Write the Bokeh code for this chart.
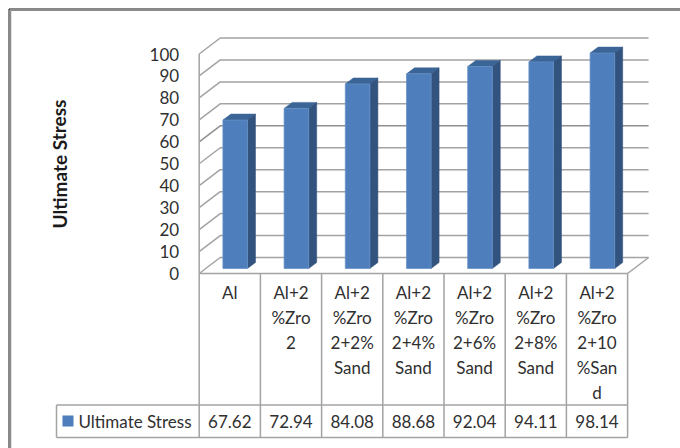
from bokeh.embed import file_html
from bokeh.resources import INLINE
from bokeh.models import ColumnDataSource, FixedTicker, Range1d
from bokeh.plotting import figure
from bokeh.core.properties import value

# Chart data
series_name = "Ultimate Stress"
category_lines = [
    ["Al"],
    ["Al+2", "%Zro", "2"],
    ["Al+2", "%Zro", "2+2%", "Sand"],
    ["Al+2", "%Zro", "2+4%", "Sand"],
    ["Al+2", "%Zro", "2+6%", "Sand"],
    ["Al+2", "%Zro", "2+8%", "Sand"],
    ["Al+2", "%Zro", "2+10", "%San", "d"],
]
stress = [67.62, 72.94, 84.08, 88.68, 92.04, 94.11, 98.14]
y_ticks = [0, 10, 20, 30, 40, 50, 60, 70, 80, 90, 100]

# Page layout, in pixels
W, H = 680, 448
X0, CELL = 198.7, 61.2      # left edge of the data table, width of one category
Y0, UNIT = 273.0, 2.195     # pixel row of value 0 on the front plane, pixels per unit
FONT = value("Lato")
TEXT = "#303030"
RULE = "#a3a3a3"
n = len(stress)


def dx(px):
    return px / CELL


def dy(px):
    return px / UNIT


def xp(px):
    return (px - X0) / CELL


def yp(px):
    return (Y0 - px) / UNIT


p = figure(
    width=W, height=H, output_backend="svg", toolbar_location=None,
    x_range=Range1d(xp(0), xp(W)), y_range=Range1d(yp(H), yp(0)),
    min_border=0, x_axis_location=None, y_axis_location="left",
)
p.xgrid.visible = False
p.ygrid.visible = False
p.outline_line_color = None
p.background_fill_color = "white"

# Value axis sits on the front edge of the left wall
ax = p.yaxis[0]
ax.fixed_location = 0
ax.ticker = FixedTicker(ticks=y_ticks)
ax.axis_line_color = None
ax.major_tick_line_color = None
ax.minor_tick_line_color = None
ax.major_label_standoff = 14
ax.major_label_text_font = "Lato"
ax.major_label_text_font_size = "17px"
ax.major_label_text_color = TEXT

# Chart frame
p.line([xp(8.5), xp(8.5)], [yp(H), yp(8.5)], line_color="#111111", line_width=1)
p.line([xp(8.5), xp(W)], [yp(8.5), yp(8.5)], line_color="#111111", line_width=1)
p.line([xp(10), xp(10)], [yp(H), yp(10)], line_color="#8c8c8c", line_width=1.5)
p.line([xp(10), xp(W)], [yp(9.8), yp(9.8)], line_color="#8c8c8c", line_width=1.5)

# Wall gridlines: diagonal on the side wall, then across the back wall
wall_dx, wall_dy = dx(21), dy(16)
p.multi_line(
    [[0, wall_dx, n + wall_dx] for _ in y_ticks],
    [[t, t + wall_dy, t + wall_dy] for t in y_ticks],
    line_color=[RULE if t != 60 else "#8f8f8f" for t in y_ticks], line_width=1.5,
)
p.line([0, 0], [0, 100], line_color=RULE, line_width=1.5)
p.line([n, n + wall_dx], [0, wall_dy], line_color=RULE, line_width=1.5)

# 3-D columns: top, side, front
bar_w = dx(24.6)
off_x, off_y = dx(5.4), dy(5.0)
dep_x, dep_y = dx(8), dy(6)
lefts = [i + 0.5 + off_x - bar_w / 2 for i in range(n)]
rights = [l + bar_w for l in lefts]
p.patches(
    [[l, r, r + dep_x, l + dep_x] for l, r in zip(lefts, rights)],
    [[v + off_y, v + off_y, v + off_y + dep_y, v + off_y + dep_y] for v in stress],
    fill_color="#3b6596", line_color="#3b6596", line_width=0.5,
)
p.patches(
    [[r, r + dep_x, r + dep_x, r] for r in rights],
    [[off_y, off_y + dep_y, v + off_y + dep_y, v + off_y] for v in stress],
    fill_color="#32537e", line_color="#32537e", line_width=0.5,
)
p.vbar(
    x=[i + 0.5 + off_x for i in range(n)], width=bar_w,
    bottom=off_y, top=[v + off_y for v in stress],
    fill_color="#4e7fbc", line_color="#6690c6", line_width=0.75,
)

# Data table under the plot
table_mid, table_bot = yp(404.5), yp(437)
legend_left = xp(56)
p.multi_line(
    [[i, i] for i in range(n + 1)],
    [[0, table_bot] for _ in range(n + 1)],
    line_color=RULE, line_width=1.5,
)
p.multi_line(
    [[0, n], [legend_left, n], [legend_left, n], [legend_left, legend_left]],
    [[0, 0], [table_mid, table_mid], [table_bot, table_bot], [table_mid, table_bot]],
    line_color=RULE, line_width=1.5,
)

# Wrapped category names
cat_x, cat_y, cat_t = [], [], []
for i, lines in enumerate(category_lines):
    for k, line in enumerate(lines):
        cat_x.append(i + 0.5)
        cat_y.append(yp(292 + 25 * k))
        cat_t.append(line)
p.text(
    x=cat_x, y=cat_y, text=cat_t, text_font=FONT, text_font_size="17px",
    text_color=TEXT, text_align="center", text_baseline="middle",
)

# Value row
row_y = yp(420.5)
values = ColumnDataSource(dict(
    x=[i + 0.5 for i in range(n)],
    y=[row_y] * n,
    t=[f"{v:.2f}" for v in stress],
))
p.text(
    x="x", y="y", text="t", source=values, text_font=FONT, text_font_size="17px",
    text_color=TEXT, text_align="center", text_baseline="middle",
)

# Legend key and series name in the table's first cell
p.quad(
    left=[xp(62)], right=[xp(73)], bottom=[yp(426)], top=[yp(415)],
    fill_color="#4e7fbc", line_color=None,
)
p.text(
    x=[xp(78)], y=[row_y], text=[series_name], text_font=FONT, text_font_size="17px",
    text_color=TEXT, text_align="left", text_baseline="middle",
)

# Vertical axis title
p.text(
    x=[xp(58.5)], y=[yp(163.5)], text=[series_name], text_font=FONT,
    text_font_size="19px", text_font_style="bold", text_color="#1a1a1a",
    angle=[90], angle_units="deg", text_align="center", text_baseline="middle",
)

open("out.html", "w").write(file_html(p, INLINE))
